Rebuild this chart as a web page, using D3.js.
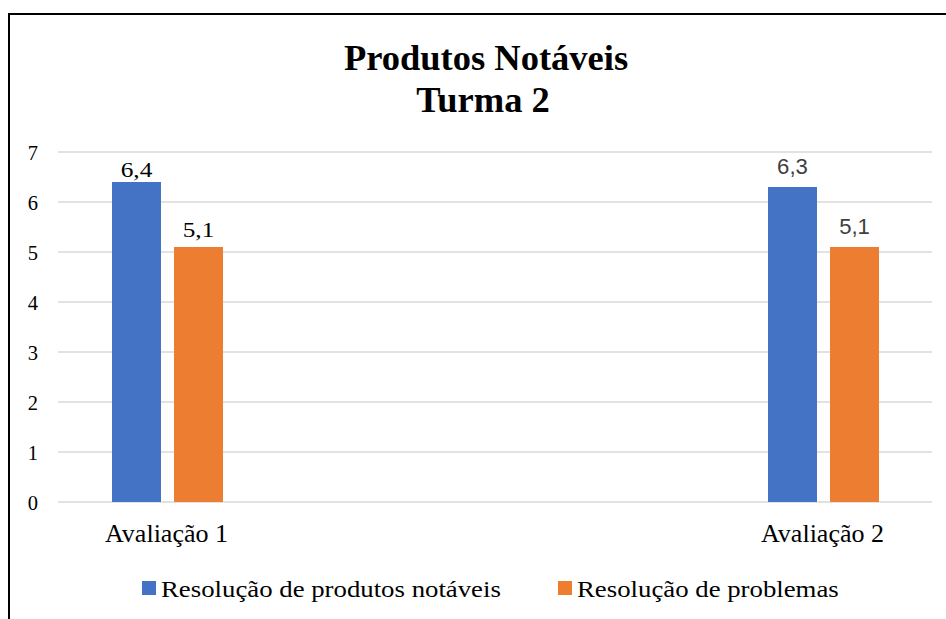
<!DOCTYPE html>
<html>
<head>
<meta charset="utf-8">
<script src="https://cdn.jsdelivr.net/npm/d3@7"></script>
<style>
  html, body { margin: 0; padding: 0; background: #fff; }
  svg { display: block; }
</style>
</head>
<body>
<svg id="chart" width="946" height="619"></svg>
<script>
// Data
const categories = ["Avaliação 1", "Avaliação 2"];
const seriesNames = ["Resolução de produtos notáveis", "Resolução de problemas"];
const produtosNotaveis = [6.4, 6.3];
const problemas = [5.1, 5.1];
const yTicks = [0, 1, 2, 3, 4, 5, 6, 7];
const titleLines = ["Produtos Notáveis", "Turma 2"];

const colors = ["#4472C4", "#ED7D31"];
const serifFont = "Liberation Serif, Times New Roman, serif";
const sansFont = "Liberation Sans, Arial, sans-serif";

const svg = d3.select("#chart");

// Frame of the chart area
svg.append("rect")
  .attr("x", 9).attr("y", 14)
  .attr("width", 1000).attr("height", 700)
  .attr("fill", "none").attr("stroke", "#000").attr("stroke-width", 2);

// Title
svg.append("text")
  .attr("x", 486).attr("y", 70)
  .attr("text-anchor", "middle")
  .attr("font-family", serifFont).attr("font-weight", "bold").attr("font-size", 36.5)
  .text(titleLines[0]);
svg.append("text")
  .attr("x", 483).attr("y", 112)
  .attr("text-anchor", "middle")
  .attr("font-family", serifFont).attr("font-weight", "bold").attr("font-size", 36.5)
  .text(titleLines[1]);

// Scales
const plotLeft = 58, plotRight = 932;
const y = d3.scaleLinear().domain([0, 7]).range([502, 152]);
const x0 = d3.scalePoint().domain(categories).range([167.5, 823.5]);
const x1 = d3.scaleBand().domain(seriesNames).range([-55.5, 55.5]).paddingInner(0.21);

// Gridlines
svg.append("g").selectAll("line")
  .data(yTicks)
  .join("line")
  .attr("x1", plotLeft).attr("x2", plotRight)
  .attr("y1", d => y(d)).attr("y2", d => y(d))
  .attr("stroke", "#d9d9d9").attr("stroke-width", 1.3);

// Y axis labels
const yAxis = d3.axisLeft(y).tickValues(yTicks).tickFormat(d3.format("d")).tickSize(0).tickPadding(0);
const yg = svg.append("g").attr("transform", "translate(38,0)").call(yAxis)
  .attr("font-family", serifFont).attr("font-size", 20.5);
yg.select(".domain").remove();
yg.selectAll("text")
  .attr("x", 0).attr("dy", "0.36em").attr("fill", "#000");

// X axis labels
const xAxis = d3.axisBottom(x0).tickSize(0).tickPadding(0);
const xg = svg.append("g").attr("transform", "translate(-1.5,542)").call(xAxis)
  .attr("font-family", serifFont).attr("font-size", 26);
xg.select(".domain").remove();
xg.selectAll("text")
  .attr("y", 0).attr("dy", 0).attr("fill", "#000");

// Bars
const rows = categories.map((c, i) => ({
  category: c,
  values: [
    { series: seriesNames[0], value: produtosNotaveis[i], color: colors[0] },
    { series: seriesNames[1], value: problemas[i], color: colors[1] }
  ]
}));

// Label styling per category group
const labelStyle = [
  { font: serifFont, fill: "#000", size: 22, sx: 1.15, gap: [5, 10] },
  { font: sansFont, fill: "#404040", size: 21.5, sx: 1.03, gap: [13, 13] }
];

const groups = svg.append("g").selectAll("g")
  .data(rows)
  .join("g")
  .attr("transform", d => `translate(${x0(d.category)},0)`);

groups.selectAll("rect")
  .data(d => d.values)
  .join("rect")
  .attr("x", d => x1(d.series))
  .attr("width", x1.bandwidth())
  .attr("y", d => y(d.value))
  .attr("height", d => y(0) - y(d.value))
  .attr("fill", d => d.color);

groups.each(function(d, gi) {
  const st = labelStyle[gi];
  d3.select(this).selectAll("text.val")
    .data(d.values)
    .join("text")
    .attr("class", "val")
    .attr("transform", (v, si) =>
      `translate(${x1(v.series) + x1.bandwidth() / 2},${y(v.value) - st.gap[si]}) scale(${st.sx},1)`)
    .attr("text-anchor", "middle")
    .attr("font-family", st.font).attr("font-size", st.size)
    .attr("fill", st.fill)
    .text(v => String(v.value).replace(".", ","));
});

// Legend
const legendItems = [
  { name: seriesNames[0], color: colors[0], x: 142 },
  { name: seriesNames[1], color: colors[1], x: 558 }
];
const lg = svg.append("g").selectAll("g")
  .data(legendItems)
  .join("g")
  .attr("transform", d => `translate(${d.x},581)`);
lg.append("rect")
  .attr("width", 14).attr("height", 14)
  .attr("fill", d => d.color);
lg.append("text")
  .attr("transform", "translate(19,15.5) scale(1.14,1)")
  .attr("font-family", serifFont).attr("font-size", 23.5).attr("fill", "#000")
  .text(d => d.name);
</script>
</body>
</html>
